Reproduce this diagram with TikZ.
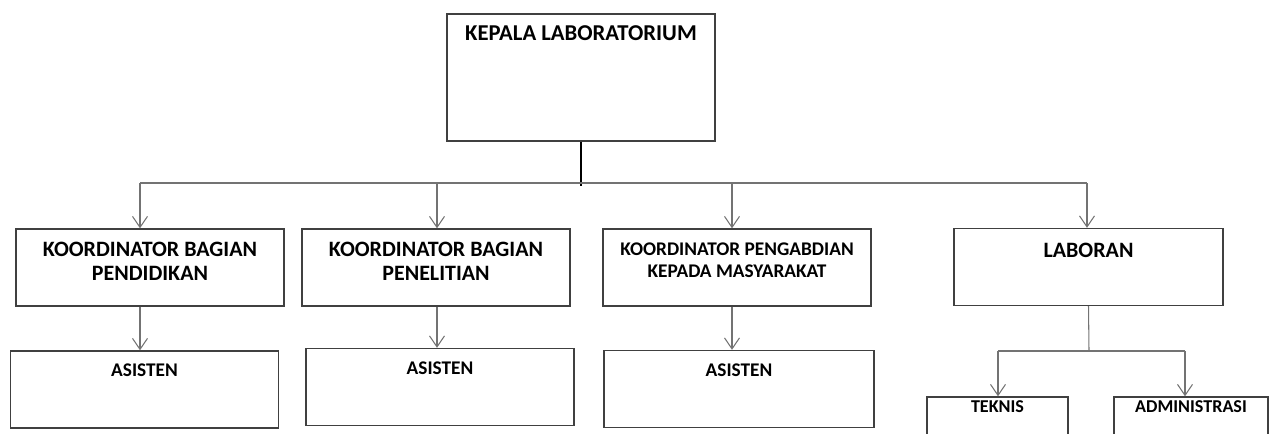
\documentclass[tikz,border=0pt]{standalone}
\usepackage{fontspec}
\setmainfont{Carlito}
\usetikzlibrary{arrows.meta,positioning}

\begin{document}
\begin{tikzpicture}[
    x=0.02cm,y=-0.02cm,
    box/.style={draw=black!75,line width=0.8pt,minimum width=5.36cm,minimum height=1.54cm},
    ttl/.style={anchor=center,align=center,font=\bfseries\fontsize{12.5}{13.2}\selectfont},
    small/.style={anchor=center,align=center,font=\bfseries\fontsize{11}{12.8}\selectfont},
    tiny/.style={anchor=center,align=center,font=\bfseries\fontsize{10.3}{12}\selectfont},
    arr/.style={-{Straight Barb[length=0.22cm,width=0.3cm]},draw=black!55,line width=0.6pt},
    link/.style={draw=black!55,line width=0.6pt}
  ]
    \clip (0,0) rectangle (1274,433);

    \node[box,minimum height=2.54cm,label={[ttl,font=\bfseries\fontsize{12.9}{14}\selectfont,yshift=-0.4cm]north:KEPALA LABORATORIUM}] (kepala) at (581,77.5) {};

    \node[box,label={[ttl,yshift=-0.66cm]north:KOORDINATOR BAGIAN\\PENDIDIKAN}] (koord1) at (150,267.5) {};
    \node[box,label={[ttl,yshift=-0.66cm]north:KOORDINATOR BAGIAN\\PENELITIAN}] (koord2) at (436,267.5) {};
    \node[box,label={[small,yshift=-0.64cm]north:KOORDINATOR PENGABDIAN\\KEPADA MASYARAKAT}] (koord3) at (737,267.5) {};
    \node[box,minimum width=5.38cm,label={[ttl,yshift=-0.46cm]north:LABORAN}] (laboran) at (1088.5,267) {};

    \node[box,label={[small,yshift=-0.4cm]north:ASISTEN}] (asisten1) at (144.5,389.5) {};
    \node[box,label={[small,yshift=-0.4cm]north:ASISTEN}] (asisten2) at (440,387) {};
    \node[box,minimum width=5.4cm,label={[small,yshift=-0.4cm]north:ASISTEN}] (asisten3) at (739,389) {};

    \node[box,minimum width=2.82cm,minimum height=1.2cm,label={[tiny,yshift=-0.21cm]north:TEKNIS}] (teknis) at (997.5,427) {};
    \node[box,minimum width=3.08cm,minimum height=1.2cm,label={[tiny,yshift=-0.21cm]north:ADMINISTRASI}] (admin) at (1191,427) {};

    \coordinate (bus) at (581,186);
    \coordinate (b1) at (140,183);
    \coordinate (b2) at (437,183);
    \coordinate (b3) at (732,183);
    \coordinate (b4) at (1087,183);
    \coordinate (lb) at (1089,351);
    \coordinate (t1) at (998,351);
    \coordinate (t2) at (1185,351);

    \draw[black,line width=1pt] (kepala.south) -- (bus);
    \draw[link] (b1) -- (b4);
    \draw[arr] (b1) -- (b1 |- koord1.north);
    \draw[arr] (b2) -- (b2 |- koord2.north);
    \draw[arr] (b3) -- (b3 |- koord3.north);
    \draw[arr] (b4) -- (b4 |- laboran.north);

    \draw[arr] (b1 |- koord1.south) -- (b1 |- asisten1.north);
    \draw[arr] (b2 |- koord2.south) -- (b2 |- asisten2.north);
    \draw[arr] (b3 |- koord3.south) -- (b3 |- asisten3.north);

    \draw[link] (laboran.south) -- (lb);
    \draw[link] (t1) -- (t2);
    \draw[arr] (t1) -- (t1 |- teknis.north);
    \draw[arr] (t2) -- (t2 |- admin.north);
  \end{tikzpicture}
\end{document}
